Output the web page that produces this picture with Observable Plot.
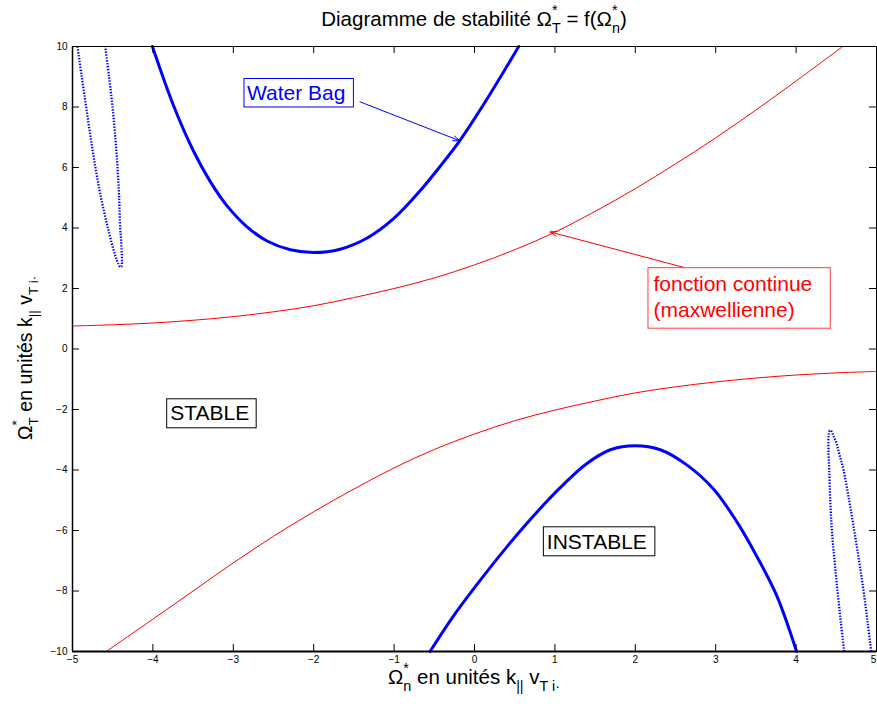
<!DOCTYPE html>
<html><head><meta charset="utf-8">
<script src="https://cdn.jsdelivr.net/npm/d3@7"></script>
<script src="https://cdn.jsdelivr.net/npm/@observablehq/plot@0.6"></script>
<style>
html,body{margin:0;padding:0;background:#fff;}
#chart svg{display:block;}
</style></head><body><div id="chart"></div>
<script>
// ---------------- data ----------------
const xTicks = [-5, -4, -3, -2, -1, 0, 1, 2, 3, 4, 5];
const yTicks = [-10, -8, -6, -4, -2, 0, 2, 4, 6, 8, 10];
const xDomain = [-5, 5];
const yDomain = [-10, 10];

// continuous (maxwellian) stability boundary – upper and lower branches
const maxwellUpper = [[-5,0.76],[-4.5,0.80],[-4,0.86],[-3.5,0.95],[-3,1.07],[-2.5,1.23],[-2,1.43],[-1.5,1.70],[-1,2.0],[-0.5,2.35],[0,2.78],[0.5,3.28],[1,3.86],[1.5,4.55],[2,5.30],[2.5,6.12],[3,6.98],[3.5,7.9],[4,8.86],[4.58,10]];
const maxwellLower = [[-4.58,-10],[-4,-8.93],[-3.5,-8.0],[-3,-7.07],[-2.5,-6.19],[-2,-5.38],[-1.5,-4.63],[-1,-3.93],[-0.5,-3.32],[0,-2.81],[0.5,-2.37],[1,-2.02],[1.5,-1.72],[2,-1.45],[2.5,-1.25],[3,-1.09],[3.5,-0.96],[4,-0.86],[4.5,-0.79],[5,-0.74]];

// water bag boundaries (thick curves)
const waterBagUpper = [[-4.006,10],[-3.745,8.06],[-3.5,6.57],[-3.29,5.55],[-3.08,4.74],[-2.83,4.04],[-2.58,3.57],[-2.29,3.28],[-2,3.19],[-1.67,3.30],[-1.34,3.66],[-1.01,4.30],[-0.68,5.22],[-0.35,6.30],[-0.18,6.90],[0.15,8.24],[0.55,10]];
const waterBagLower = [[-0.553,-10],[-0.26,-8.82],[0.07,-7.65],[0.40,-6.55],[0.73,-5.53],[1.06,-4.60],[1.39,-3.80],[1.69,-3.33],[2,-3.20],[2.31,-3.33],[2.64,-3.83],[2.97,-4.62],[3.26,-5.70],[3.51,-6.85],[3.76,-8.16],[4.006,-10]];

// water bag narrow loops (dotted)
const waterBagLoopLeft = [[-4.938,10],[-4.885,9],[-4.83,8],[-4.775,7],[-4.715,6],[-4.645,5],[-4.56,4],[-4.47,3.1],[-4.43,2.82],[-4.405,2.71],[-4.39,2.73],[-4.385,2.88],[-4.388,3.2],[-4.395,3.6],[-4.407,4],[-4.42,5],[-4.44,6],[-4.468,7],[-4.502,8],[-4.545,9],[-4.593,10]];
const waterBagLoopRight = [[4.598,-10],[4.555,-9],[4.515,-8],[4.478,-7],[4.445,-6],[4.425,-5],[4.412,-4],[4.402,-3.3],[4.405,-2.85],[4.42,-2.69],[4.44,-2.72],[4.465,-2.88],[4.50,-3.1],[4.54,-3.5],[4.59,-4],[4.66,-5],[4.723,-6],[4.783,-7],[4.839,-8],[4.888,-9],[4.934,-10]];

// annotations
const noteTexts = [
  {group: "wb", text: "Water Bag", x: -2.83, y: 8.215, color: "#0000ff"},
  {group: "mx", text: "fonction continue", x: 2.226, y: 1.911, color: "#ff0000"},
  {group: "mx", text: "(maxwellienne)", x: 2.226, y: 1.051, color: "#ff0000"},
  {group: "st", text: "STABLE", x: -3.785, y: -2.34, color: "#000000"},
  {group: "in", text: "INSTABLE", x: 0.900, y: -6.605, color: "#000000"}
];
const noteBoxes = [
  {group: "wb", color: "#0000ff", pad: [3, 8, 3, 2.5]},
  {group: "mx", color: "#ff3c3c", pad: [5.5, 18, 4.5, 7]},
  {group: "st", color: "#000000", pad: [3.5, 7, 2, 4]},
  {group: "in", color: "#000000", pad: [3.5, 8, 3, 3]}
];
const noteArrows = [
  {x1: -1.424, y1: 8.17, x2: -0.181, y2: 6.88, color: "#0000ff"},
  {x1: 2.60, y1: 2.70, x2: 0.94, y2: 3.87, color: "#ff0000"}
];

// ---------------- chart ----------------
const W = 877, H = 708;
const mT = 46, mB = 57, mL = 72, mR = 1;
const FONT = '"Liberation Sans", Arial, Helvetica, sans-serif';
const frameW = W - mL - mR, frameH = H - mT - mB;
const TICK = 7;

const pt = ([x, y]) => ({x, y});

const plot = Plot.plot({
  width: W, height: H,
  marginTop: mT, marginBottom: mB, marginLeft: mL, marginRight: mR,
  x: {domain: xDomain, label: null},
  y: {domain: yDomain, label: null},
  style: {fontFamily: FONT, fontSize: "10px", color: "#000", background: "#fff", overflow: "visible"},
  marks: [
    Plot.line(maxwellUpper.map(pt), {x: "x", y: "y", stroke: "#ff0000", strokeWidth: 1, curve: "catmull-rom"}),
    Plot.line(maxwellLower.map(pt), {x: "x", y: "y", stroke: "#ff0000", strokeWidth: 1, curve: "catmull-rom"}),
    Plot.line(waterBagUpper.map(pt), {x: "x", y: "y", stroke: "#0000ff", strokeWidth: 3, curve: "catmull-rom"}),
    Plot.line(waterBagLower.map(pt), {x: "x", y: "y", stroke: "#0000ff", strokeWidth: 3, curve: "catmull-rom"}),
    Plot.line(waterBagLoopLeft.map(pt), {x: "x", y: "y", stroke: "#0000ff", strokeWidth: 2.3, strokeDasharray: "1.4,1.5", strokeLinecap: "butt", curve: "catmull-rom"}),
    Plot.line(waterBagLoopRight.map(pt), {x: "x", y: "y", stroke: "#0000ff", strokeWidth: 2.3, strokeDasharray: "1.4,1.5", strokeLinecap: "butt", curve: "catmull-rom"}),
    Plot.arrow(noteArrows, {x1: "x1", y1: "y1", x2: "x2", y2: "y2", stroke: "color", strokeWidth: 1, headLength: 11, headAngle: 40}),
    Plot.text(noteTexts, {x: "x", y: "y", text: "text", fill: "color", textAnchor: "start", lineAnchor: "bottom", fontSize: 21}),
    // inward ticks on all four sides
    Plot.tickX(xTicks, {x: d => d, insetTop: frameH - TICK, stroke: "#000"}),
    Plot.tickX(xTicks, {x: d => d, insetBottom: frameH - TICK, stroke: "#000"}),
    Plot.tickY(yTicks, {y: d => d, insetRight: frameW - TICK, stroke: "#000"}),
    Plot.tickY(yTicks, {y: d => d, insetLeft: frameW - TICK, stroke: "#000"}),
    Plot.axisX({ticks: xTicks, anchor: "bottom", tickSize: 0, tickPadding: 4, label: null, fontSize: 10}),
    Plot.axisY({ticks: yTicks, anchor: "left", tickSize: 0, tickPadding: 5, label: null, fontSize: 10}),
    Plot.frame({stroke: "#000", strokeWidth: 1}),
    Plot.ruleY([yDomain[0]], {stroke: "#000", strokeWidth: 2}),
    Plot.ruleX([xDomain[0]], {stroke: "#000", strokeWidth: 1.5})
  ]
});
document.getElementById("chart").append(plot);

const svg = d3.select(plot);
const svgRect = plot.getBoundingClientRect();

// keep the last x tick label inside the picture
svg.selectAll('g[aria-label="x-axis tick label"] text').each(function() {
  if (this.textContent === String(xDomain[1])) d3.select(this).attr("dx", -3);
});

// ---------------- annotation boxes ----------------
const textEls = Array.from(plot.querySelectorAll('g[aria-label="text"] text'));
for (const box of noteBoxes) {
  const lines = noteTexts.filter(d => d.group === box.group).map(d => d.text);
  const els = textEls.filter(e => lines.includes(e.textContent));
  let x0 = Infinity, y0 = Infinity, x1 = -Infinity, y1 = -Infinity;
  for (const e of els) {
    const b = e.getBoundingClientRect();
    x0 = Math.min(x0, b.left - svgRect.left); y0 = Math.min(y0, b.top - svgRect.top);
    x1 = Math.max(x1, b.right - svgRect.left); y1 = Math.max(y1, b.bottom - svgRect.top);
  }
  const [pl, pr, pt_, pb] = box.pad;
  svg.append("rect")
    .attr("x", x0 - pl).attr("y", y0 - pt_)
    .attr("width", x1 - x0 + pl + pr).attr("height", y1 - y0 + pt_ + pb)
    .attr("fill", "none").attr("stroke", box.color).attr("stroke-width", 1);
}

// ---------------- rich text (title and axis labels) ----------------
function richText(parent, parts, size) {
  const t = parent.append("text").attr("font-family", FONT).attr("font-size", size).attr("fill", "#000");
  let cur = 0;
  for (const p of parts) {
    if (p.stack) {
      const supOff = -0.55 * size, subOff = 0.32 * size;
      const s = t.append("tspan").attr("font-size", size * 0.7).attr("dy", supOff - cur).text(p.stack[0]);
      const w = s.node().getComputedTextLength();
      t.append("tspan").attr("font-size", size * 0.7).attr("dx", -w).attr("dy", subOff - supOff).text(p.stack[1]);
      cur = subOff;
    } else {
      const off = p.sub ? 0.32 * size : 0;
      const s = t.append("tspan").attr("dy", off - cur).text(p.t);
      if (p.sub) s.attr("font-size", size * 0.7);
      cur = off;
    }
  }
  return t;
}
const cx = mL + frameW / 2;
richText(svg, [
  {t: "Diagramme de stabilité Ω"}, {stack: ["*", "T"]}, {t: " = f(Ω"}, {stack: ["*", "n"]}, {t: ")"}
], 20.5).attr("x", cx).attr("y", 26).attr("text-anchor", "middle");

richText(svg, [
  {t: "Ω"}, {stack: ["*", "n"]}, {t: " en unités k"}, {t: "||", sub: true}, {t: " v"}, {t: "T i·", sub: true}
], 20.5).attr("x", cx).attr("y", 684).attr("text-anchor", "middle");

richText(svg, [
  {t: "Ω"}, {stack: ["*", "T"]}, {t: " en unités k"}, {t: "||", sub: true}, {t: " v"}, {t: "T i·", sub: true}
], 19.5).attr("text-anchor", "start").attr("transform", "translate(32,440) rotate(-90)");
</script></body></html>
